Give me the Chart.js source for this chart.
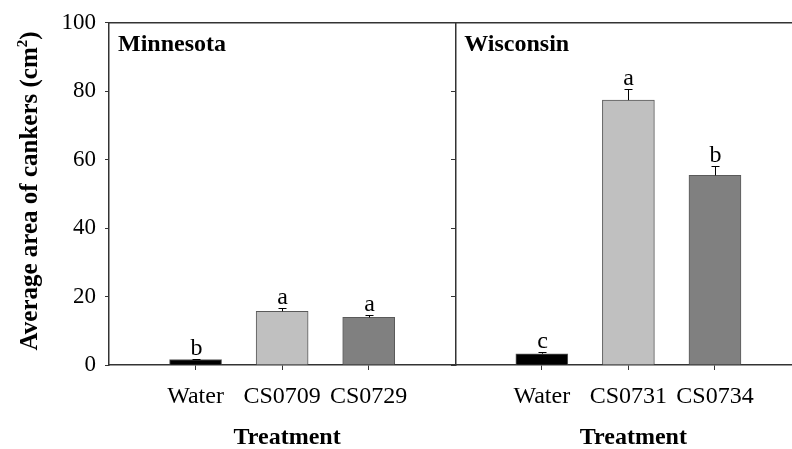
<!DOCTYPE html>
<html>
<head>
<meta charset="utf-8">
<script src="https://cdn.jsdelivr.net/npm/chart.js@4/dist/chart.umd.min.js"></script>
<style>
  html, body { margin: 0; padding: 0; background: #fff; overflow: hidden; }
  canvas { display: block; }
</style>
</head>
<body>
<canvas id="chart" width="792" height="449"></canvas>
<script>
// Canker area by treatment, two sites
const sites = ['Minnesota', 'Wisconsin'];
const treatmentsMN = ['Water', 'CS0709', 'CS0729'];
const treatmentsWI = ['Water', 'CS0731', 'CS0734'];
const meanMN = [1.6, 15.7, 13.9];
const seMN = [0.2, 0.9, 0.8];
const meanWI = [3.3, 77.4, 55.4];
const seWI = [0.6, 3.3, 2.7];
const lettersMN = ['b', 'a', 'a'];
const lettersWI = ['c', 'a', 'b'];
const yTicks = [0, 20, 40, 60, 80, 100];
const barColors = ['#000000', '#c0c0c0', '#808080'];

// Each site gets a panel four x-units wide; treatments sit at units 1..3 of it.
const PANEL = 4;
const slot = (panel, i) => panel * PANEL + i + 1;
const panels = [
  { labels: treatmentsMN, mean: meanMN, se: seMN, letters: lettersMN },
  { labels: treatmentsWI, mean: meanWI, se: seWI, letters: lettersWI }
];

const SERIF = '"Liberation Serif", "Times New Roman", serif';
const AXIS = '#333333';

const xTickValues = panels.flatMap((p, k) => p.labels.map((_, i) => slot(k, i)));
const xTickLabel = v => {
  const k = Math.floor(v / PANEL);
  const p = panels[k];
  return p ? (p.labels[v - k * PANEL - 1] ?? '') : '';
};

const toPoints = (p, k) => p.mean.map((v, i) => ({ x: slot(k, i), y: v }));

// Error bars, significance letters, panel names and axis titles
const annotate = {
  id: 'annotate',
  afterDatasetsDraw(chart) {
    const { ctx, chartArea, scales: { x, y } } = chart;
    ctx.save();
    ctx.fillStyle = '#000';
    panels.forEach((p, k) => {
      p.mean.forEach((v, i) => {
        const px = Math.round(x.getPixelForValue(slot(k, i))) + 0.5;
        const yTop = y.getPixelForValue(v);
        const yErr = Math.round(y.getPixelForValue(v + p.se[i])) + 0.5;
        ctx.strokeStyle = '#000';
        ctx.lineWidth = 1;
        ctx.beginPath();
        ctx.moveTo(px, yTop);
        ctx.lineTo(px, yErr);
        ctx.moveTo(px - 4, yErr);
        ctx.lineTo(px + 4, yErr);
        ctx.stroke();
        ctx.font = '24px ' + SERIF;
        ctx.textAlign = 'center';
        ctx.textBaseline = 'alphabetic';
        ctx.fillText(p.letters[i], px, yErr - 5);
      });

      // site name in the panel's upper-left corner
      ctx.font = 'bold 24px ' + SERIF;
      ctx.textAlign = 'left';
      ctx.fillText(sites[k], x.getPixelForValue(k * PANEL) + 9, chartArea.top + 28);

      // x-axis title under each panel
      ctx.textAlign = 'center';
      ctx.fillText('Treatment', x.getPixelForValue(k * PANEL + 2) + 5, 444);
    });

    // y-axis title with a superscript unit
    ctx.translate(37, (chartArea.top + chartArea.bottom) / 2 - 3);
    ctx.rotate(-Math.PI / 2);
    const main = 'Average area of cankers (cm';
    const sup = '2';
    const tail = ')';
    ctx.font = 'bold 25px ' + SERIF;
    const wMain = ctx.measureText(main).width;
    const wTail = ctx.measureText(tail).width;
    ctx.font = 'bold 15px ' + SERIF;
    const wSup = ctx.measureText(sup).width;
    let cx = -(wMain + wSup + wTail) / 2;
    ctx.textAlign = 'left';
    ctx.font = 'bold 25px ' + SERIF;
    ctx.fillText(main, cx, 0);
    cx += wMain;
    ctx.font = 'bold 15px ' + SERIF;
    ctx.fillText(sup, cx, -10);
    cx += wSup;
    ctx.font = 'bold 25px ' + SERIF;
    ctx.fillText(tail, cx, 0);
    ctx.restore();
  }
};

const barStyle = {
  backgroundColor: barColors,
  borderColor: '#5a5a5a',
  borderWidth: 1,
  borderSkipped: 'bottom',
  grouped: false,
  barThickness: 52
};

new Chart(document.getElementById('chart'), {
  type: 'bar',
  data: {
    datasets: panels.map((p, k) => Object.assign({ label: sites[k], data: toPoints(p, k) }, barStyle))
  },
  options: {
    responsive: false,
    animation: false,
    devicePixelRatio: 1,
    layout: { padding: { top: 17, left: 0, right: 0, bottom: 0 } },
    plugins: { legend: { display: false }, tooltip: { enabled: false } },
    scales: {
      x: {
        type: 'linear',
        position: 'bottom',
        min: 0,
        max: 7.89,
        offset: false,
        afterBuildTicks: s => { s.ticks = xTickValues.map(v => ({ value: v })); },
        afterFit: s => { s.height = 84; },
        ticks: {
          callback: v => xTickLabel(v),
          font: { family: SERIF, size: 24 },
          color: '#000',
          padding: 12,
          maxRotation: 0,
          autoSkip: false
        },
        grid: { offset: false, drawOnChartArea: false, drawTicks: true, tickLength: 5, color: AXIS },
        border: { color: AXIS, width: 1.5 }
      },
      xTop: {
        type: 'linear',
        position: 'top',
        min: 0,
        max: 7.89,
        ticks: { display: false },
        grid: { drawOnChartArea: false, drawTicks: false, color: AXIS },
        border: { color: AXIS, width: 1.5 }
      },
      y: {
        position: 'left',
        min: 0,
        max: 100,
        afterBuildTicks: s => { s.ticks = yTicks.map(v => ({ value: v })); },
        afterFit: s => { s.width = 109; },
        ticks: { font: { family: SERIF, size: 23 }, color: '#000', padding: 9 },
        grid: { drawOnChartArea: false, drawTicks: true, tickLength: 4, color: AXIS },
        border: { color: AXIS, width: 1.5 }
      },
      y2: {
        position: { x: PANEL },
        min: 0,
        max: 100,
        afterBuildTicks: s => { s.ticks = yTicks.map(v => ({ value: v })); },
        ticks: { display: false },
        grid: { drawOnChartArea: false, drawTicks: true, tickLength: 4, color: AXIS },
        border: { color: AXIS, width: 1.5 }
      }
    }
  },
  plugins: [annotate]
});
</script>
</body>
</html>
